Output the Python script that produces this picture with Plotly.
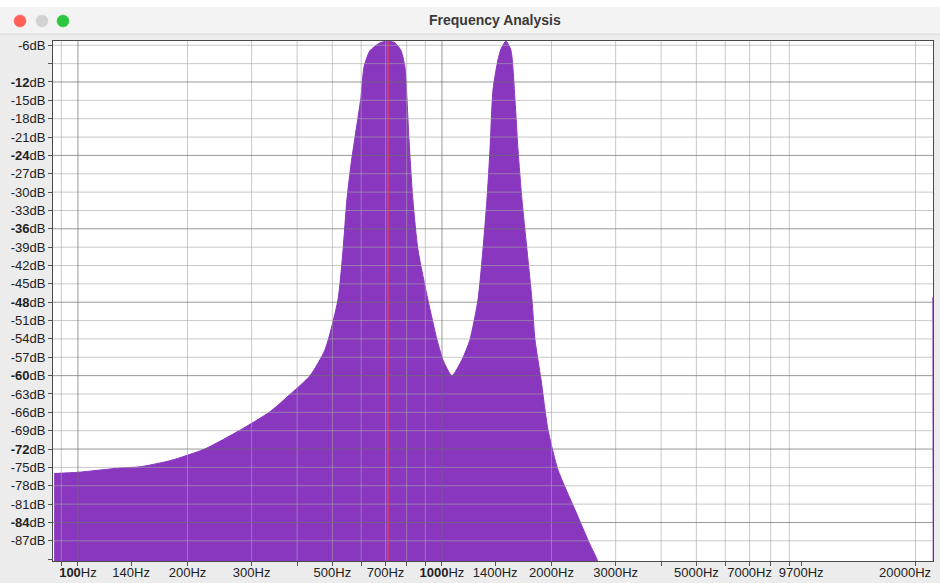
import math
import plotly.graph_objects as go

# ---------------- data ----------------
freq_hz = [86, 100, 130.5, 148, 179, 223, 279, 337, 382, 434, 477, 518, 535, 548,
           563, 577, 599, 611, 634, 676, 711, 743, 772, 791, 801, 812, 832, 859,
           915, 969, 1006, 1065, 1135, 1194, 1256, 1296, 1329, 1355, 1381, 1425,
           1453, 1499, 1547, 1587, 1618, 1659, 1712, 1767, 1801, 1871, 1955, 2083,
           2319, 2550, 2666, 2716, 3000]
level_db = [-76.0, -75.8, -75.1, -74.9, -73.9, -72.0, -68.9, -65.9, -63.1, -60.0,
            -55.8, -47.6, -39.4, -31.3, -25.3, -21.0, -14.5, -9.5, -6.9, -5.6,
            -5.3, -5.6, -6.9, -9.5, -14.5, -21.5, -31.3, -39.4, -47.6, -54.1,
            -57.4, -60.0, -57.4, -54.1, -47.6, -39.4, -31.3, -23.1, -13.3, -8.4,
            -6.6, -5.3, -6.8, -14.9, -23.1, -31.3, -39.4, -47.6, -54.1, -60.6,
            -68.8, -75.4, -81.9, -87.6, -90.0, -91.7, -96.0]
# last (Nyquist) bin, drawn as a thin sliver at the right border
nyquist_hz = [22250, 22262, 22336]
nyquist_db = [-47.3, -47.3, -47.3]
cursor_hz = 711

x_tick_hz = [100, 140, 200, 300, 500, 700, 1000, 1400, 2000, 3000, 5000, 7000, 9700, 20000]
x_tick_text = ["<b>100</b>Hz", "140Hz", "200Hz", "300Hz", "500Hz", "700Hz",
               "<b>1000</b>Hz", "1400Hz", "2000Hz", "3000Hz", "5000Hz", "7000Hz",
               "9700Hz", "20000Hz"]
edge_label_hz = 20000          # label pushed left to stay inside the window
x_minor_tick_hz = [90, 400, 600, 800, 900, 4000, 6000, 8000, 9000]
grid_major_hz = [100, 1000]
grid_minor_hz = [90, 200, 300, 400, 500, 600, 700, 800, 900,
                 2000, 3000, 4000, 5000, 6000, 7000, 8000, 9000, 20000]

y_tick_db = [-6, -9, -12, -15, -18, -21, -24, -27, -30, -33, -36, -39, -42, -45,
             -48, -51, -54, -57, -60, -63, -66, -69, -72, -75, -78, -81, -84, -87, -90]
y_unlabelled_db = [-9, -90]
grid_y_db = [-6, -9, -12, -15, -18, -21, -24, -27, -30, -33, -36, -39, -42, -45,
             -48, -51, -54, -57, -60, -63, -66, -69, -72, -75, -78, -81, -84, -87]

x_range_hz = [85.4, 22336]
y_range_db = [-90.3, -5.3]

# ---------------- styling ----------------
PURPLE = "#8937bf"
FONT = "Liberation Sans, Arial, sans-serif"
W, H = 940, 583
L, R, T, B = 53, 7, 41, 22
PW, PH = W - L - R, H - T - B


def px_x(p):
    return (p - L) / PW


def px_y(p):
    return (H - B - p) / PH


y_tick_text = []
for v in y_tick_db:
    if v in y_unlabelled_db:
        y_tick_text.append("")
    elif v % 12 == 0:
        y_tick_text.append(f"<b>{v}</b>dB")
    else:
        y_tick_text.append(f"{v}dB")

x_axis_text = ["" if v == edge_label_hz else t for v, t in zip(x_tick_hz, x_tick_text)]
edge_text = x_tick_text[x_tick_hz.index(edge_label_hz)]

floor_db = -130
fig = go.Figure()
for xs, ys, shape in [(freq_hz, level_db, "spline"), (nyquist_hz, nyquist_db, "hv")]:
    fig.add_trace(go.Scatter(x=xs, y=[floor_db] * len(xs), mode="lines",
                             line=dict(width=0, color=PURPLE, shape="linear"),
                             hoverinfo="skip", showlegend=False))
    fig.add_trace(go.Scatter(x=xs, y=ys, mode="lines", fill="tonexty",
                             fillcolor=PURPLE,
                             line=dict(width=1, color=PURPLE, shape=shape, smoothing=0.6),
                             hoverinfo="skip", showlegend=False))


def grid_trace(xv, yv, color):
    xs, ys = [], []
    for v in xv:
        xs += [v, v, None]
        ys += [y_range_db[0], y_range_db[1], None]
    for v in yv:
        xs += [x_range_hz[0], x_range_hz[1], None]
        ys += [v, v, None]
    return go.Scatter(x=xs, y=ys, mode="lines", line=dict(width=1, color=color),
                      hoverinfo="skip", showlegend=False, connectgaps=False)


minor_y = [v for v in grid_y_db if v % 12 != 0 or v == -6]
major_y = [v for v in grid_y_db if v % 12 == 0 and v != -6]
fig.add_trace(grid_trace(grid_minor_hz, minor_y, "rgba(165,165,165,0.6)"))
fig.add_trace(grid_trace(grid_major_hz, major_y, "rgba(110,110,110,0.7)"))

# cursor
fig.add_trace(go.Scatter(x=[cursor_hz, cursor_hz], y=y_range_db, mode="lines",
                         line=dict(width=1.3, color="rgba(236,70,70,0.9)"),
                         hoverinfo="skip", showlegend=False))

TICKFONT = dict(family=FONT, size=13, color="#222")
axis_common = dict(showline=True, mirror=True, linecolor="#4a4a4a", linewidth=1,
                   showgrid=False, zeroline=False, ticks="outside", ticklen=4,
                   tickcolor="#555", tickfont=TICKFONT,
                   automargin=False, fixedrange=True)

fig.update_layout(
    width=W, height=H,
    margin=dict(l=L, r=R, t=T, b=B),
    paper_bgcolor="#ececec", plot_bgcolor="white",
    showlegend=False,
    xaxis=dict(type="log", range=[math.log10(x_range_hz[0]), math.log10(x_range_hz[1])],
               tickmode="array", tickvals=x_tick_hz, ticktext=x_axis_text,
               ticklabelstandoff=-5,
               minor=dict(tickmode="array", tickvals=x_minor_tick_hz, ticks="outside",
                          ticklen=4, tickcolor="#555", showgrid=False),
               **axis_common),
    yaxis=dict(range=y_range_db, tickmode="array", tickvals=y_tick_db,
               ticktext=y_tick_text, **axis_common),
)

fig.add_annotation(text=edge_text, xref="x", yref="paper", x=math.log10(edge_label_hz),
                   y=px_y(572), xshift=-11, showarrow=False, font=TICKFONT,
                   xanchor="center", yanchor="middle")

# window chrome: title bar
shapes = [
    dict(type="rect", xref="paper", yref="paper", x0=px_x(0), x1=px_x(W),
         y0=px_y(7), y1=px_y(0), fillcolor="white", line=dict(width=0), layer="below"),
    dict(type="rect", xref="paper", yref="paper", x0=px_x(0), x1=px_x(W),
         y0=px_y(34), y1=px_y(7), fillcolor="#f3f3f3", line=dict(width=0), layer="below"),
    dict(type="line", xref="paper", yref="paper", x0=px_x(0), x1=px_x(W),
         y0=px_y(34), y1=px_y(34), line=dict(width=1, color="#d6d6d6")),
]
for cx, col in [(20, "#fe5f57"), (42, "#d2d2d2"), (63, "#2ac73f")]:
    shapes.append(dict(type="circle", xref="paper", yref="paper",
                       x0=px_x(cx - 6), x1=px_x(cx + 6), y0=px_y(21 + 6), y1=px_y(21 - 6),
                       fillcolor=col, line=dict(width=0.5, color=col)))
fig.update_layout(shapes=shapes)

fig.add_annotation(text="<b>Frequency Analysis</b>", xref="paper", yref="paper",
                   x=px_x(495), y=px_y(20), showarrow=False,
                   font=dict(family=FONT, size=14, color="#3a3a3a"),
                   xanchor="center", yanchor="middle")

fig.write_html("out.html", config={"displayModeBar": False},
               post_script="document.body.style.margin='0';document.body.style.overflow='hidden';")
